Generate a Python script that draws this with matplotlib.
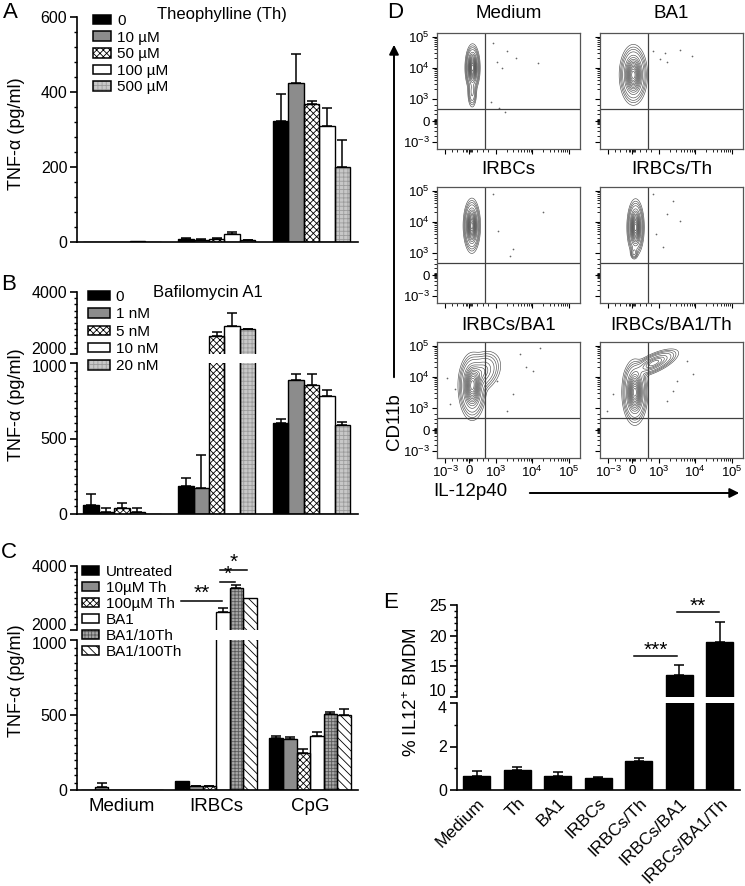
import numpy as np
import matplotlib
matplotlib.use('Agg')
import matplotlib.pyplot as plt
from matplotlib.patches import Patch, FancyArrowPatch
from matplotlib.ticker import FixedLocator

plt.rcParams['font.family'] = ['Liberation Sans', 'DejaVu Sans']
plt.rcParams['mathtext.fontset'] = 'custom'
plt.rcParams['mathtext.rm'] = 'Liberation Sans'
plt.rcParams['mathtext.it'] = 'Liberation Sans:italic'
plt.rcParams['mathtext.bf'] = 'Liberation Sans:bold'
plt.rcParams['hatch.linewidth'] = 0.6
plt.rcParams['axes.linewidth'] = 1.2

# ---------------- data ----------------
# Panel A : Theophylline (three stimulation groups, five doses)
a_series = ['0', '10 µM', '50 µM', '100 µM', '500 µM']
a_vals = [[0, 8, 322], [0, 6, 425], [0, 7, 367], [2, 20, 310], [0, 5, 200]]
a_errs = [[0, 2, 72], [0, 2, 77], [0, 4, 8], [0, 7, 47], [0, 1, 72]]

# Panel B : Bafilomycin A1
b_series = ['0', '1 nM', '5 nM', '10 nM', '20 nM']
b_vals = [[60, 185, 600], [13, 170, 890], [40, 2590, 855], [13, 2900, 780], [0, 2800, 590]]
b_errs = [[70, 55, 30], [27, 220, 40], [33, 130, 75], [27, 430, 40], [0, 15, 20]]

# Panel C
c_groups = ['Medium', 'IRBCs', 'CpG']
c_series = ['Untreated', '10µM Th', '100µM Th', 'BA1', 'BA1/10Th', 'BA1/100Th']
c_vals = [[0, 60, 345], [20, 25, 340], [0, 25, 245], [3, 2570, 360], [3, 3320, 510], [3, 3010, 500]]
c_errs = [[0, 0, 15], [30, 5, 15], [0, 5, 30], [0, 130, 30], [0, 80, 8], [0, 0, 40]]

# Panel D : flow cytometry populations (axis units = display decades)
flow_titles = ['Medium', 'BA1', 'IRBCs', 'IRBCs/Th', 'IRBCs/BA1', 'IRBCs/BA1/Th']
flow_main_x = [2.37, 2.31, 2.35, 2.37, 2.36, 2.35]
flow_main_y = [4.00, 3.77, 3.87, 3.82, 3.68, 3.50]
flow_main_sx = [0.07, 0.13, 0.08, 0.08, 0.13, 0.12]
flow_main_sy = [0.26, 0.33, 0.30, 0.31, 0.37, 0.36]
flow_side_w = [0.18, 0.0, 0.0, 0.2, 0.35, 0.45]
flow_side_x = [2.36, 2.3, 2.35, 2.33, 2.62, 2.87]
flow_side_y = [3.20, 3.7, 3.8, 3.00, 4.15, 4.44]
flow_side_sx = [0.05, 0.1, 0.1, 0.04, 0.20, 0.25]
flow_side_sy = [0.20, 0.1, 0.1, 0.08, 0.26, 0.17]
flow_side_rho = [0.0, 0.0, 0.0, 0.0, 0.3, 0.7]
flow_out_x = [[2.93, 3.32, 3.55, 4.16, 3.03, 3.16, 2.87, 3.10, 3.26],
              [3.17, 3.22, 3.90, 3.58, 2.85, 3.03],
              [2.93, 4.30, 3.07, 3.48, 3.39],
              [3.40, 3.58, 3.22, 3.12, 2.94, 2.85],
              [1.66, 3.66, 3.84, 4.02, 3.48, 3.30, 1.89, 3.03, 4.21, 1.75],
              [3.94, 3.49, 3.40, 1.76, 1.58, 3.76, 3.22]]
flow_out_y = [[4.81, 4.54, 4.33, 4.15, 4.20, 4.00, 2.88, 2.70, 2.58],
              [4.49, 4.17, 4.38, 4.57, 4.54, 4.28],
              [4.89, 4.33, 3.70, 3.11, 2.90],
              [4.67, 4.03, 4.24, 3.17, 3.60, 4.89],
              [3.97, 4.73, 4.30, 4.19, 3.44, 2.90, 3.60, 3.87, 4.94, 3.11],
              [4.08, 3.87, 3.54, 3.44, 2.90, 4.51, 3.22]]
flow_gate_x = 2.71
flow_gate_y = 2.68
flow_tick_pos = [1.62, 2.28, 3.0, 4.0, 5.0]
flow_tick_lab = ['$10^{-3}$', '0', '$10^{3}$', '$10^{4}$', '$10^{5}$']

# Panel E
e_cats = ['Medium', 'Th', 'BA1', 'IRBCs', 'IRBCs/Th', 'IRBCs/BA1', 'IRBCs/BA1/Th']
e_vals = [0.65, 0.92, 0.65, 0.53, 1.32, 13.6, 19.0]
e_errs = [0.22, 0.15, 0.20, 0.06, 0.17, 1.6, 3.2]

# ---------------- figure ----------------
W, H = 745, 886
fig = plt.figure(figsize=(W / 100, H / 100), dpi=100)


def rect(x0, y0, x1, y1):
    return [x0 / W, 1 - y1 / H, (x1 - x0) / W, (y1 - y0) / H]


def fxy(x, y):
    return (x / W, 1 - y / H)


STY = {
    'black': dict(fc='black', hatch=None, hc='black'),
    'gray': dict(fc='#8c8c8c', hatch=None, hc='#8c8c8c'),
    'check': dict(fc='white', hatch='xxxxx', hc='black'),
    'white': dict(fc='white', hatch=None, hc='white'),
    'lgrid': dict(fc='#c8c8c8', hatch='++++', hc='#9c9c9c'),
    'dgrid': dict(fc='#a8a8a8', hatch='+++++', hc='#5a5a5a'),
    'diag': dict(fc='white', hatch='\\\\\\\\', hc='black'),
}


def draw_series(ax, xpos, vals, errs, st, width):
    xpos = np.asarray(xpos, float)
    vals = np.asarray(vals, float)
    errs = np.asarray(errs, float)
    ax.bar(xpos, vals, width, color=st['fc'], hatch=st['hatch'], edgecolor=st['hc'],
           linewidth=0, zorder=2)
    ax.bar(xpos, vals, width, fill=False, edgecolor='black', linewidth=1.0, zorder=3)
    m = errs > 0
    if m.any():
        ax.errorbar(xpos[m], vals[m], yerr=[np.zeros(m.sum()), errs[m]], fmt='none',
                    ecolor='black', elinewidth=1.1, capsize=3.5, capthick=1.1, zorder=1)


def legend_handles(styles):
    hs = []
    for st in styles:
        hs.append((Patch(facecolor=st['fc'], hatch=st['hatch'], edgecolor=st['hc'], linewidth=0),
                   Patch(fill=False, edgecolor='black', linewidth=1.1)))
    return hs


def bar_panel(rects, ylims, majors, minors, vals, errs, styles, width, xlim, hide=()):
    axes = []
    n = len(vals)
    for k, (r, yl, mj, mn) in enumerate(zip(rects, ylims, majors, minors)):
        ax = fig.add_axes(rect(*r))
        ax.set_xlim(*xlim)
        ax.set_ylim(*yl)
        ax.set_yticks(mj)
        ax.set_yticklabels(['' if v in hide else str(v) for v in mj])
        ax.yaxis.set_minor_locator(FixedLocator(mn))
        for sp in ['top', 'right']:
            ax.spines[sp].set_visible(False)
        if k < len(rects) - 1:
            ax.spines['bottom'].set_visible(False)
        ax.set_xticks([])
        ax.tick_params(axis='y', which='major', length=5, width=1.2, labelsize=11.5, pad=2)
        ax.tick_params(axis='y', which='minor', length=2.5, width=1.0)
        ax.patch.set_alpha(0)
        for i in range(n):
            xpos = np.arange(len(vals[i])) + (i - (n - 1) / 2) * width
            draw_series(ax, xpos, vals[i], errs[i], styles[i], width)
        axes.append(ax)
    return axes


def break_label(x, y, s):
    fig.text(*fxy(x, y), s, fontsize=11.5, ha='right', va='center')


# ---- Panel A ----
a_styles = [STY['black'], STY['gray'], STY['check'], STY['white'], STY['lgrid']]
axA = bar_panel([(77, 17, 358, 242)], [(0, 600)], [[0, 200, 400, 600]],
                [np.arange(0, 601, 40)], a_vals, a_errs, a_styles, 0.163, (-0.474, 2.49))[0]
axA.legend(legend_handles(a_styles), a_series, loc='upper left',
           bbox_to_anchor=fxy(93, 14), bbox_transform=fig.transFigure, frameon=False,
           borderpad=0, borderaxespad=0, handlelength=1.15, handleheight=0.6,
           handletextpad=0.45, labelspacing=0.17, fontsize=11)
fig.text(*fxy(222, 15), 'Theophylline (Th)', fontsize=12, ha='center', va='center')
fig.text(*fxy(17, 134), 'TNF-α (pg/ml)', fontsize=13, rotation=90, ha='center', va='center')

# ---- Panel B ----
b_styles = a_styles
axB = bar_panel([(77, 292, 358, 354), (77, 363, 358, 514)], [(2000, 4000), (0, 1000)],
                [[2000, 4000], [0, 500, 1000]],
                [np.arange(2000, 4001, 200), np.arange(0, 1001, 50)],
                b_vals, b_errs, b_styles, 0.163, (-0.474, 2.49), hide=(2000, 1000))
break_label(67, 349.5, '2000')
break_label(67, 367.5, '1000')
axB[0].legend(legend_handles(b_styles), b_series, loc='upper left',
              bbox_to_anchor=fxy(88, 290), bbox_transform=fig.transFigure, frameon=False,
              borderpad=0, borderaxespad=0, handlelength=1.45, handleheight=0.55,
              handletextpad=0.35, labelspacing=0.22, fontsize=11)
fig.text(*fxy(208, 292), 'Bafilomycin A1', fontsize=12, ha='center', va='center')
fig.text(*fxy(17, 405), 'TNF-α (pg/ml)', fontsize=13, rotation=90, ha='center', va='center')

# ---- Panel C ----
c_styles = [STY['black'], STY['gray'], STY['check'], STY['white'], STY['dgrid'], STY['diag']]
axC = bar_panel([(77, 566, 358, 630), (77, 640, 358, 790)], [(2000, 4000), (0, 1000)],
                [[2000, 4000], [0, 500, 1000]],
                [np.arange(2000, 4001, 200), np.arange(0, 1001, 50)],
                c_vals, c_errs, c_styles, 0.144, (-0.479, 2.51), hide=(2000, 1000))
break_label(67, 625.5, '2000')
break_label(67, 644.5, '1000')
axC[1].set_xticks(range(len(c_groups)))
axC[1].set_xticklabels(c_groups, fontsize=13.5)
axC[1].tick_params(axis='x', length=0, pad=6)
axC[0].legend(legend_handles(c_styles), c_series, loc='upper left',
              bbox_to_anchor=fxy(82, 565), bbox_transform=fig.transFigure, frameon=False,
              borderpad=0, borderaxespad=0, handlelength=1.1, handleheight=0.6,
              handletextpad=0.45, labelspacing=0.13, fontsize=11)
fig.text(*fxy(17, 681), 'TNF-α (pg/ml)', fontsize=13, rotation=90, ha='center', va='center')
# significance brackets
for (x0, x1, y, s) in [(0.628, 1.064, 2906, '**'), (1.043, 1.20, 3510, '*'), (1.043, 1.33, 3875, '*')]:
    axC[0].plot([x0, x1], [y, y], color='black', lw=1.1, clip_on=False)
    axC[0].text((x0 + x1) / 2, y - 60, s, ha='center', va='bottom', fontsize=15,
                clip_on=False)

# ---- Panel E ----
e_axes = []
for k, (r, yl, mj, mn) in enumerate([((457, 605, 740, 697), (10, 25), [10, 15, 20, 25], np.arange(10, 26, 1)),
                                      ((457, 703, 740, 790), (0, 4), [0, 2, 4], [1, 3])]):
    ax = fig.add_axes(rect(*r))
    ax.set_xlim(-0.486, 6.5)
    ax.set_ylim(*yl)
    ax.set_yticks(mj)
    ax.set_yticklabels(['' if (v == 10 and k == 0) or (v == 4 and k == 1) else str(v) for v in mj])
    ax.yaxis.set_minor_locator(FixedLocator(mn))
    for sp in ['top', 'right']:
        ax.spines[sp].set_visible(False)
    if k == 0:
        ax.spines['bottom'].set_visible(False)
        ax.set_xticks([])
    ax.tick_params(axis='y', which='major', length=5, width=1.2, labelsize=11.5, pad=2)
    ax.tick_params(axis='y', which='minor', length=2.5, width=1.0)
    ax.patch.set_alpha(0)
    draw_series(ax, np.arange(len(e_vals)), e_vals, e_errs, STY['black'], 0.667)
    e_axes.append(ax)
break_label(447, 691.5, '10')
break_label(447, 708.5, '4')
e_axes[1].set_xticks(range(len(e_cats)))
e_axes[1].set_xticklabels(e_cats, rotation=45, ha='right', rotation_mode='anchor', fontsize=12.5)
e_axes[1].tick_params(axis='x', length=0, pad=4)
for (x0, x1, y, s) in [(3.88, 4.95, 16.7, '***'), (4.95, 5.98, 23.9, '**')]:
    e_axes[0].plot([x0, x1], [y, y], color='black', lw=1.1, clip_on=False)
    e_axes[0].text((x0 + x1) / 2, y - 0.6, s, ha='center', va='bottom', fontsize=15, clip_on=False)
fig.text(*fxy(412, 692), '% IL12$^{+}$ BMDM', fontsize=13.5, rotation=90, ha='center', va='center')

# ---- Panel D ----
fx = np.linspace(1.4, 5.3, 300)
fy = np.linspace(1.38, 5.12, 300)
FX, FY = np.meshgrid(fx, fy)


def gauss(w, cx, cy, sx, sy, rho):
    dx = (FX - cx) / sx
    dy = (FY - cy) / sy
    q = (dx * dx - 2 * rho * dx * dy + dy * dy) / (1 - rho * rho)
    return w * np.exp(-0.5 * q)


minor_flow = [1.8, 1.95, 2.1, 2.2, 2.23, 2.26, 2.3, 2.33, 2.36, 2.5, 2.65, 2.8]
minor_flow += [d + np.log10(k) for d in (3, 4) for k in range(2, 10)]
flow_levels = np.concatenate([[0.012, 0.025, 0.045], np.linspace(0.08, 0.94, 12)])
col_x = [(437, 580), (600, 743)]
row_y = [(33, 149), (187, 303), (342, 458)]
title_y = [13, 170, 325]
for idx in range(6):
    r, c = divmod(idx, 2)
    ax = fig.add_axes(rect(col_x[c][0], row_y[r][0], col_x[c][1], row_y[r][1]))
    Z = gauss(1.0, flow_main_x[idx], flow_main_y[idx], flow_main_sx[idx], flow_main_sy[idx], 0.0)
    Z = Z + gauss(flow_side_w[idx], flow_side_x[idx], flow_side_y[idx], flow_side_sx[idx],
                  flow_side_sy[idx], flow_side_rho[idx])
    ax.contour(FX, FY, Z, levels=Z.max() * flow_levels, colors='#505050', linewidths=0.45)
    ax.scatter(flow_out_x[idx], flow_out_y[idx], s=1.5, c='#666666', linewidths=0)
    ax.axvline(flow_gate_x, color='#404040', lw=0.9)
    ax.axhline(flow_gate_y, color='#404040', lw=0.9)
    ax.set_xlim(1.4, 5.3)
    ax.set_ylim(1.38, 5.12)
    for sp in ax.spines.values():
        sp.set_linewidth(0.9)
        sp.set_color('#555555')
    ax.set_xticks(flow_tick_pos)
    ax.set_yticks(flow_tick_pos)
    ax.xaxis.set_minor_locator(FixedLocator(minor_flow))
    ax.yaxis.set_minor_locator(FixedLocator(minor_flow))
    ax.set_xticklabels(flow_tick_lab if r == 2 else [])
    ax.set_yticklabels(flow_tick_lab if c == 0 else [])
    ax.tick_params(which='major', length=3.5, width=0.8, labelsize=9.5, pad=1.5)
    ax.tick_params(which='minor', length=2, width=0.6)
    fig.text(*fxy((col_x[c][0] + col_x[c][1]) / 2, title_y[r]), flow_titles[idx],
             fontsize=13.5, ha='center', va='center')

fig.add_artist(FancyArrowPatch(fxy(394, 380), fxy(394, 42), transform=fig.transFigure,
                               arrowstyle='-|>', mutation_scale=14, lw=1.4, color='black'))
fig.add_artist(FancyArrowPatch(fxy(527, 493), fxy(742, 493), transform=fig.transFigure,
                               arrowstyle='-|>', mutation_scale=14, lw=1.4, color='black'))
fig.text(*fxy(394, 422), 'CD11b', fontsize=13.5, rotation=90, ha='center', va='center')
fig.text(*fxy(470, 492), 'IL-12p40', fontsize=13.5, ha='center', va='center')

# panel letters
for s, x, y in [('A', 10, 12), ('B', 9, 285), ('C', 9, 552), ('D', 395, 12), ('E', 391, 602)]:
    fig.text(*fxy(x, y), s, fontsize=16, ha='center', va='center')

fig.savefig('out.png', dpi=100, facecolor='white')
